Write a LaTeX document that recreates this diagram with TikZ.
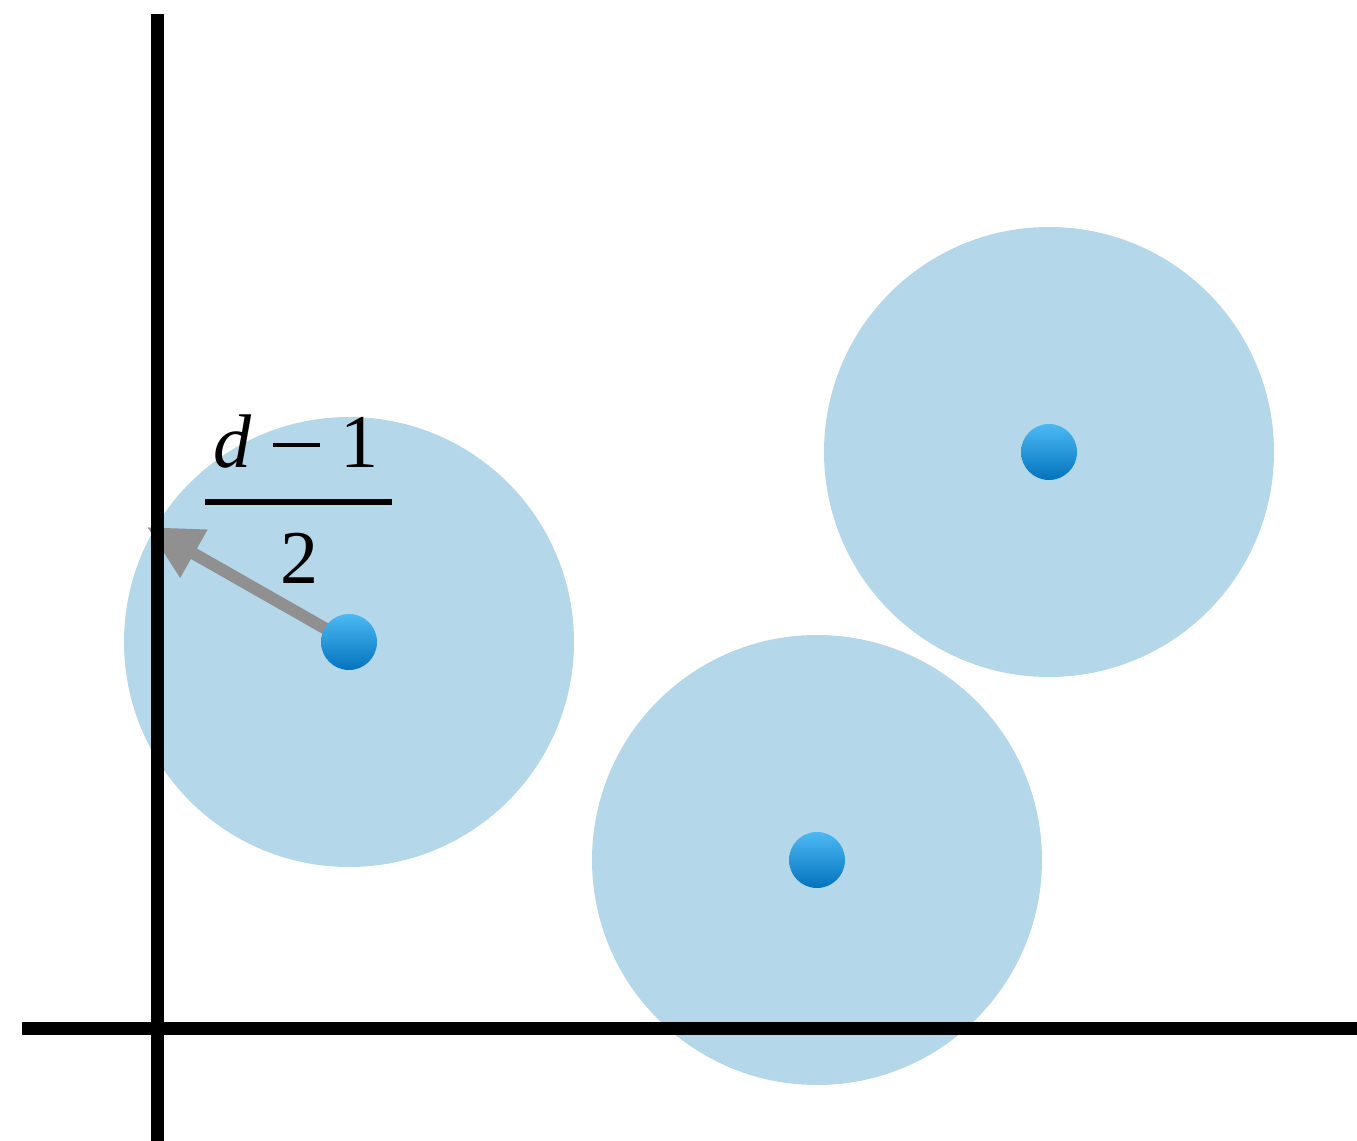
\documentclass[tikz,border=0pt]{standalone}
\usepackage{fontspec}
\setmainfont{Liberation Serif}
\usetikzlibrary{arrows.meta}
\definecolor{disk}{HTML}{B4D7EA}
\definecolor{dottop}{HTML}{4CB9F4}
\definecolor{dotbot}{HTML}{0473BD}
\definecolor{arrowgray}{HTML}{909090}
\tikzset{
  disk/.style={fill=disk, draw=none},
  centre/.style={circle, minimum size=28pt, inner sep=0pt, top color=dottop, bottom color=dotbot, draw=none},
  axis/.style={line width=6.5pt, black},
  radius arrow/.style={line width=6pt, arrowgray, -{Triangle[length=27pt,width=26pt]}},
  frac/.style={font=\fontsize{38}{40}\selectfont, inner sep=0pt}
}
\begin{document}
\begin{tikzpicture}[x=0.5pt,y=-0.5pt]
\useasboundingbox (0,0) rectangle (1357,1141);
% disks
\fill[disk] (349,642) circle (225);
\fill[disk] (817,860) circle (225);
\fill[disk] (1049,452) circle (225);
% arrow
\coordinate (tip) at (147,527);
\coordinate (c1) at (349,642);
\draw[radius arrow] (c1) -- (tip);
% axes
\coordinate (vt) at (157.5,14);
\coordinate (vb) at (157.5,1141);
\coordinate (hl) at (22,1028);
\coordinate (hr) at (1357,1028);
\draw[axis] (vt) -- (vb);
\draw[axis] (hl) -- (hr);
% centres
\node[centre] (p1) at (349,642) {};
\node[centre] (p2) at (817,860) {};
\node[centre] (p3) at (1049,452) {};
% fraction
\node[frac, anchor=base] (num) at (296,467) {\textit{d}\hspace{10.5pt}\rule[10pt]{23.5pt}{2.2pt}\hspace{10pt}1};
\coordinate (bl) at (205,502);
\coordinate (br) at (392,502);
\draw[line width=3pt] (bl) -- (br);
\node[frac, anchor=base] (den) at (299,583) {2};
\end{tikzpicture}
\end{document}
